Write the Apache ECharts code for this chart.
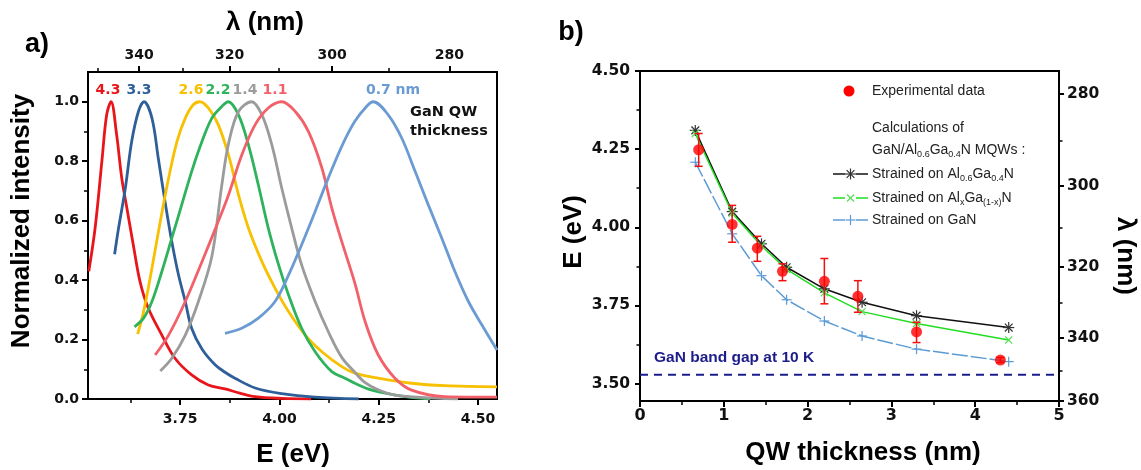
<!DOCTYPE html>
<html>
<head>
<meta charset="utf-8">
<script src="https://cdn.jsdelivr.net/npm/echarts@6/dist/echarts.min.js"></script>
<style>html,body{margin:0;padding:0;background:#fff}#c{width:1141px;height:470px}</style>
</head>
<body>
<div id="c"></div>
<script>
// ---------- Panel a: PL spectra (E in eV, normalized intensity) ----------
const e43 = [3.52,3.536,3.553,3.565,3.576,3.59,3.603,3.616,3.632,3.649,3.67,3.704,3.737,3.779,3.821,3.863,3.90,3.939,4.006,4.08];
const i43 = [0.43,0.576,0.80,0.956,1.0,0.89,0.743,0.642,0.519,0.395,0.305,0.215,0.137,0.081,0.047,0.034,0.02,0.008,0.002,0.0];
const e33 = [3.585,3.595,3.612,3.628,3.645,3.659,3.679,3.695,3.712,3.729,3.746,3.763,3.779,3.805,3.838,3.863,3.888,3.939,4.006,4.09,4.2];
const i33 = [0.487,0.575,0.709,0.866,0.967,1.0,0.945,0.81,0.664,0.53,0.417,0.328,0.238,0.168,0.115,0.09,0.07,0.037,0.018,0.006,0.0];
const e26 = [3.643,3.658,3.679,3.70,3.721,3.742,3.763,3.783,3.80,3.821,3.846,3.872,3.897,3.922,3.956,3.989,4.023,4.065,4.107,4.157,4.19,4.249,4.333,4.417,4.548];
const i26 = [0.218,0.294,0.44,0.597,0.743,0.866,0.945,0.99,1.0,0.979,0.923,0.82,0.687,0.575,0.462,0.373,0.294,0.215,0.159,0.109,0.087,0.07,0.053,0.045,0.041];
const e22 = [3.635,3.658,3.679,3.704,3.729,3.754,3.779,3.805,3.83,3.855,3.871,3.897,3.922,3.947,3.972,3.998,4.023,4.056,4.09,4.132,4.165,4.19,4.233,4.317,4.38];
const i22 = [0.243,0.272,0.328,0.429,0.541,0.653,0.765,0.866,0.945,0.984,1.0,0.956,0.855,0.72,0.575,0.451,0.35,0.238,0.159,0.092,0.07,0.053,0.03,0.008,0.0];
const e14 = [3.70,3.729,3.763,3.796,3.83,3.855,3.872,3.897,3.93,3.956,3.981,4.006,4.031,4.056,4.09,4.123,4.157,4.19,4.216,4.25,4.291,4.375,4.45];
const i14 = [0.094,0.137,0.215,0.328,0.48,0.72,0.86,0.967,1.0,0.956,0.855,0.709,0.575,0.451,0.328,0.227,0.14,0.09,0.055,0.03,0.013,0.004,0.0];
const e11 = [3.687,3.721,3.763,3.805,3.846,3.872,3.905,3.939,3.972,4.006,4.04,4.073,4.107,4.132,4.157,4.19,4.216,4.249,4.291,4.333,4.417,4.548];
const i11 = [0.148,0.215,0.328,0.462,0.597,0.687,0.82,0.923,0.979,1.0,0.967,0.9,0.777,0.642,0.53,0.39,0.26,0.148,0.07,0.03,0.008,0.006];
const e07 = [3.863,3.905,3.947,3.989,4.023,4.056,4.09,4.123,4.157,4.19,4.22,4.236,4.274,4.308,4.342,4.375,4.409,4.442,4.476,4.51,4.548];
const i07 = [0.221,0.238,0.272,0.328,0.417,0.519,0.631,0.743,0.85,0.934,0.985,1.0,0.956,0.878,0.765,0.653,0.541,0.429,0.328,0.249,0.165];
const spectraNames = ['4.3','3.3','2.6','2.2','1.4','1.1','0.7 nm'];
const eTickMajor = [3.75,4.00,4.25,4.50];
const eTickMinor = [3.625,3.875,4.125,4.375];
const iTickMajor = [0,0.2,0.4,0.6,0.8,1.0];
const iTickMinor = [0.1,0.3,0.5,0.7,0.9];
const lamTopMajor = [340,320,300,280];
const lamTopMinor = [350,330,310,290];

// ---------- Panel b: transition energy vs QW thickness ----------
const thk = [0.7,1.1,1.4,1.7,2.2,2.6,3.3,4.3];
const expE = [4.248,4.009,3.933,3.859,3.827,3.779,3.665,3.575];
const expLo = [4.195,3.952,3.891,3.829,3.755,3.728,3.631,3.567];
const expHi = [4.300,4.070,3.971,3.883,3.900,3.829,3.696,3.583];
const calcThk = [0.66,1.1,1.45,1.75,2.2,2.65,3.3,4.4];
const calcAlGaN = [4.31,4.05,3.947,3.872,3.803,3.760,3.717,3.679];
const calcAlxGa = [4.30,4.045,3.94,3.865,3.79,3.73,3.692,3.639];
const calcGaN = [4.208,3.979,3.845,3.768,3.70,3.652,3.61,3.570];
const gapThk = [0,5];
const gapE = [3.528,3.528];
const bETickMajor = [3.50,3.75,4.00,4.25,4.50];
const bETickMinor = [3.625,3.875,4.125,4.375];
const lamRightMajor = [280,300,320,340,360];
const lamRightMinor = [290,310,330,350];

const HC = 1239.84;
const zip = (a,b) => a.map((v,i)=>[v,b[i]]);

const spectra = [[e43,i43,'#e8161b'],[e33,i33,'#2f5f98'],[e26,i26,'#f7c000'],[e22,i22,'#2eb25c'],[e14,i14,'#9b9b9b'],[e11,i11,'#f2606a'],[e07,i07,'#6a9bd2']];

const TICKFONT = '"DejaVu Sans"';
function mainAxis(extra){
  return Object.assign({
    type:'value', splitLine:{show:false},
    axisLine:{show:true,onZero:false,lineStyle:{color:'#000',width:2}},
    axisTick:{show:true,length:6,lineStyle:{color:'#000',width:2}},
    axisLabel:{color:'#111',fontFamily:TICKFONT,fontWeight:'bold',fontSize:14}
  }, extra);
}
function minorAxis(extra, vals, len){
  return Object.assign({
    type:'value', splitLine:{show:false},
    axisLine:{show:false,onZero:false},
    axisLabel:{show:false},
    axisTick:{show:true,length:len||4,customValues:vals,lineStyle:{color:'#000',width:1.5}}
  }, extra);
}

const xA = {min:3.518,max:4.548};
const yA = {min:0,max:1.1};
const xB = {min:0,max:5};
const yB = {min:3.444,max:4.5};

const xAxis = [
  mainAxis(Object.assign({gridIndex:0,position:'bottom'},xA,{
    axisTick:{show:true,length:6,customValues:eTickMajor,lineStyle:{color:'#000',width:2}},
    axisLabel:{customValues:eTickMajor,formatter:v=>v.toFixed(2),margin:13,color:'#111',fontFamily:TICKFONT,fontWeight:'bold',fontSize:14}})),
  minorAxis(Object.assign({gridIndex:0,position:'bottom'},xA), eTickMinor),
  mainAxis(Object.assign({gridIndex:0,position:'top'},xA,{
    axisTick:{show:true,length:6,customValues:lamTopMajor.map(l=>HC/l),lineStyle:{color:'#000',width:2}},
    axisLabel:{customValues:lamTopMajor.map(l=>HC/l),formatter:v=>String(Math.round(HC/v)),margin:10,color:'#111',fontFamily:TICKFONT,fontWeight:'bold',fontSize:14}})),
  minorAxis(Object.assign({gridIndex:0,position:'top'},xA), lamTopMinor.map(l=>HC/l)),
  mainAxis(Object.assign({gridIndex:1,position:'bottom',interval:1,
    minorTick:{show:true,splitNumber:2,length:4,lineStyle:{color:'#000',width:1.5}}},xB,{
    axisLabel:{margin:7,color:'#111',fontFamily:TICKFONT,fontWeight:'bold',fontSize:16}}))
];
const yAxis = [
  mainAxis(Object.assign({gridIndex:0,position:'left'},yA,{
    axisTick:{show:true,length:6,customValues:iTickMajor,lineStyle:{color:'#000',width:2}},
    axisLabel:{customValues:iTickMajor,formatter:v=>v.toFixed(1),margin:9,color:'#111',fontFamily:TICKFONT,fontWeight:'bold',fontSize:14}})),
  minorAxis(Object.assign({gridIndex:0,position:'left'},yA), iTickMinor),
  mainAxis(Object.assign({gridIndex:1,position:'left'},yB,{
    axisTick:{show:true,length:5,customValues:bETickMajor,lineStyle:{color:'#000',width:2}},
    axisLabel:{customValues:bETickMajor,formatter:v=>v.toFixed(2),margin:10,color:'#111',fontFamily:TICKFONT,fontWeight:'bold',fontSize:15.5}})),
  minorAxis(Object.assign({gridIndex:1,position:'left'},yB), bETickMinor, 3.5),
  mainAxis(Object.assign({gridIndex:1,position:'right'},yB,{
    axisTick:{show:true,length:5,customValues:lamRightMajor.map(l=>HC/l),lineStyle:{color:'#000',width:2}},
    axisLabel:{customValues:lamRightMajor.map(l=>HC/l),formatter:v=>String(Math.round(HC/v)),margin:8,color:'#111',fontFamily:TICKFONT,fontWeight:'bold',fontSize:15.5}})),
  minorAxis(Object.assign({gridIndex:1,position:'right'},yB), lamRightMinor.map(l=>HC/l), 3.5)
];

const series = [];
spectra.forEach((s,k)=>{
  series.push({name:spectraNames[k],type:'line',xAxisIndex:0,yAxisIndex:0,data:zip(s[0],s[1]),
    showSymbol:false,smooth:0.35,lineStyle:{color:s[2],width:2.8},itemStyle:{color:s[2]},z:2+k*0.01,silent:true,animation:false});
});

// band gap dashed line
series.push({name:'GaN band gap at 10 K',type:'line',xAxisIndex:4,yAxisIndex:2,data:zip(gapThk,gapE),showSymbol:false,
  lineStyle:{color:'#1c1c8a',width:2,type:[8,6]},animation:false,silent:true});

const calc = [
  {name:'Strained on Al0.6Ga0.4N',y:calcAlGaN,line:'#111111',mk:'#333333',kind:'star',dash:'solid'},
  {name:'Strained on AlxGa(1-x)N',y:calcAlxGa,line:'#22dd22',mk:'#55e055',kind:'x',dash:'solid'},
  {name:'Strained on GaN',y:calcGaN,line:'#5b9bd5',mk:'#5b9bd5',kind:'plus',dash:[16,3]}
];
function markerLines(kind, cx, cy, r, color){
  let angs = kind==='star' ? [0,45,90,135] : kind==='x' ? [45,135] : [0,90];
  return angs.map(a=>{
    const t=a*Math.PI/180, dx=Math.cos(t)*r, dy=Math.sin(t)*r;
    return {type:'line',shape:{x1:cx-dx,y1:cy-dy,x2:cx+dx,y2:cy+dy},style:{stroke:color,lineWidth:1.2}};
  });
}
calc.forEach(c=>{
  series.push({name:c.name,type:'line',xAxisIndex:4,yAxisIndex:2,data:zip(calcThk,c.y),showSymbol:false,
    lineStyle:{color:c.line,width:1.5,type:c.dash},animation:false,silent:true,z:3});
  series.push({name:c.name+' markers',type:'custom',xAxisIndex:4,yAxisIndex:2,data:zip(calcThk,c.y),
    encode:{x:0,y:1},animation:false,silent:true,z:4,
    renderItem:(params,api)=>{
      const p = api.coord([api.value(0),api.value(1)]);
      return {type:'group',children:markerLines(c.kind,p[0],p[1],c.kind==='star'?5.5:5,c.mk)};
    }});
});

// error bars
series.push({name:'error',type:'custom',xAxisIndex:4,yAxisIndex:2,data:thk.map((t,i)=>[t,expLo[i],expHi[i]]),
  encode:{x:0,y:[1,2]},animation:false,silent:true,z:5,
  renderItem:(params,api)=>{
    const x=api.value(0), a=api.coord([x,api.value(1)]), b=api.coord([x,api.value(2)]);
    const st={stroke:'#ee1111',lineWidth:1.5};
    return {type:'group',children:[
      {type:'line',shape:{x1:a[0],y1:a[1],x2:b[0],y2:b[1]},style:st},
      {type:'line',shape:{x1:a[0]-4,y1:a[1],x2:a[0]+4,y2:a[1]},style:st},
      {type:'line',shape:{x1:b[0]-4,y1:b[1],x2:b[0]+4,y2:b[1]},style:st}
    ]};
  }});
series.push({name:'Experimental data',type:'scatter',xAxisIndex:4,yAxisIndex:2,data:zip(thk,expE),
  symbol:'circle',symbolSize:11,itemStyle:{color:'#ff0000'},animation:false,silent:true,z:6});

// ---------- text / legend graphics ----------
const TF = '"Liberation Sans", Arial, sans-serif';
function T(x,y,text,font,fill,extra){
  return Object.assign({type:'text',x:x,y:y,silent:true,style:Object.assign({text:text,font:font,fill:fill||'#000',align:'center',verticalAlign:'middle'},(extra&&extra.style)||{})},
    extra?{rotation:extra.rotation||0}:{});
}
const peakLabels = [
  [108,'4.3','#e8161b'],[139,'3.3','#2f5f98'],[191,'2.6','#f7c000'],[218,'2.2','#2eb25c'],
  [245,'1.4','#9b9b9b'],[275,'1.1','#f2606a'],[393,'0.7 nm','#6a9bd2']
];
const richSub = {s:{fontSize:9,lineHeight:9,padding:[9,0,0,0],fontFamily:TF,fill:'#222'}};
function legText(x,y,txt){
  return {type:'text',x:x,y:y,silent:true,style:{text:txt,font:'14px '+TF,fill:'#222',align:'left',verticalAlign:'middle',lineHeight:18,rich:richSub}};
}
function legIcon(y,c){
  const els=[
    {type:'line',shape:{x1:833,y1:y,x2:845,y2:y},style:{stroke:c.line,lineWidth:1.5}},
    {type:'line',shape:{x1:856,y1:y,x2:868,y2:y},style:{stroke:c.line,lineWidth:1.5}}
  ];
  return els.concat(markerLines(c.kind,850.5,y,c.kind==='star'?5.5:5,c.mk).map(e=>Object.assign(e,{silent:true})));
}
const graphic = [
  T(37,45,'a)','bold 27px '+TF,'#000'),
  T(265,23,'λ (nm)','bold 26px '+TF,'#000'),
  T(293,455,'E (eV)','bold 26px '+TF,'#000'),
  T(22,221,'Normalized intensity','bold 26px '+TF,'#000',{rotation:Math.PI/2}),
  T(571,33,'b)','bold 27px '+TF,'#000'),
  T(574,232,'E (eV)','bold 26px '+TF,'#000',{rotation:Math.PI/2}),
  T(1125,256,'λ (nm)','bold 26px '+TF,'#000',{rotation:-Math.PI/2}),
  T(863,453,'QW thickness (nm)','bold 26px '+TF,'#000'),
  {type:'text',x:654,y:358,silent:true,style:{text:'GaN band gap at 10 K',font:'bold 15.5px '+TF,fill:'#1c1c8a',align:'left',verticalAlign:'middle'}},
  {type:'text',x:410,y:112,silent:true,style:{text:'GaN QW',font:'bold 14.5px "DejaVu Sans"',fill:'#111',align:'left',verticalAlign:'middle'}},
  {type:'text',x:410,y:131,silent:true,style:{text:'thickness',font:'bold 14.5px "DejaVu Sans"',fill:'#111',align:'left',verticalAlign:'middle'}},
  {type:'circle',shape:{cx:849,cy:91,r:5.5},style:{fill:'#ff0000'},silent:true},
  legText(872,91,'Experimental data'),
  legText(872,128,'Calculations of'),
  legText(872,150,'GaN/Al{s|0.6}Ga{s|0.4}N MQWs :'),
  legText(872,174,'Strained on Al{s|0.6}Ga{s|0.4}N'),
  legText(872,198,'Strained on Al{s|x}Ga{s|(1-x)}N'),
  legText(872,220,'Strained on GaN')
].concat(peakLabels.map(p=>({type:'text',x:p[0],y:90,silent:true,style:{text:p[1],font:'bold 14px "DejaVu Sans"',fill:p[2],align:'center',verticalAlign:'middle'}})))
 .concat(legIcon(174,calc[0])).concat(legIcon(198,calc[1])).concat(legIcon(220,calc[2]));

const chart = echarts.init(document.getElementById('c'),null,{renderer:'canvas'});
chart.setOption({
  backgroundColor:'#fff',
  animation:false,
  grid:[
    {left:88,top:72,width:409,height:327,show:true,borderColor:'#000',borderWidth:2,backgroundColor:'transparent'},
    {left:640,top:71,width:419,height:330,show:true,borderColor:'#000',borderWidth:2,backgroundColor:'transparent'}
  ],
  xAxis:xAxis, yAxis:yAxis, series:series, graphic:graphic
});
</script>
</body>
</html>
